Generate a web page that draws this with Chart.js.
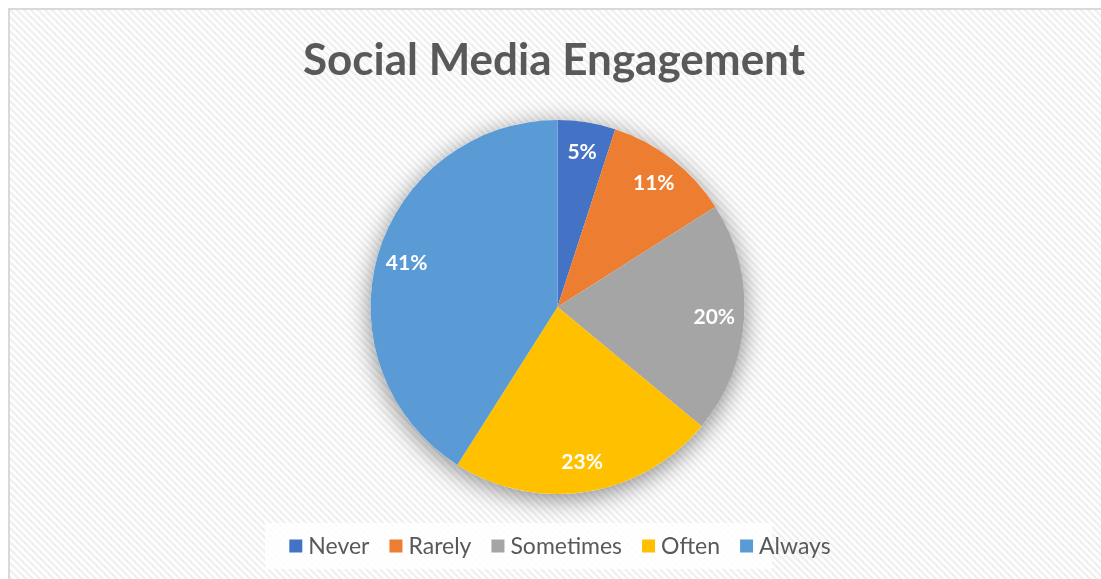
<!DOCTYPE html>
<html>
<head>
<meta charset="utf-8">
<script src="https://cdn.jsdelivr.net/npm/chart.js@4.4.1/dist/chart.umd.min.js"></script>
<style>
  html, body { margin: 0; padding: 0; background: #ffffff; }
  canvas { display: block; }
</style>
</head>
<body>
<canvas id="grafico" width="1101" height="579"></canvas>
<script>
// Dados do gráfico
const categorias = ["Never", "Rarely", "Sometimes", "Often", "Always"];
const percentuais = [5, 11, 20, 23, 41];
const cores = ["#4472C4", "#ED7D31", "#A5A5A5", "#FFC000", "#5B9BD5"];
const titulo = "Social Media Engagement";

const FONTE = "Lato, 'Open Sans', sans-serif";
const CINZA_TEXTO = "#595959";

// Padrão de listras diagonais do fundo
function criarPadrao(ctx) {
    const tile = document.createElement("canvas");
    tile.width = 7;
    tile.height = 7;
    const t = tile.getContext("2d");
    t.fillStyle = "#ffffff";
    t.fillRect(0, 0, 7, 7);
    t.strokeStyle = "rgba(0,0,0,0.06)";
    t.lineWidth = 2.5;
    t.beginPath();
    t.moveTo(-2, -2); t.lineTo(9, 9);
    t.moveTo(-9, -2); t.lineTo(2, 9);
    t.moveTo(5, -2); t.lineTo(16, 9);
    t.stroke();
    return ctx.createPattern(tile, "repeat");
}

// Fundo, borda e título
const fundoPlugin = {
    id: "fundo",
    beforeDraw(chart) {
        const ctx = chart.ctx;
        ctx.save();
        ctx.fillStyle = "#ffffff";
        ctx.fillRect(0, 0, chart.width, chart.height);
        ctx.fillStyle = criarPadrao(ctx);
        ctx.fillRect(9, 9, chart.width, chart.height);
        ctx.strokeStyle = "#d9d9d9";
        ctx.lineWidth = 2;
        ctx.strokeRect(9, 9, chart.width + 10, chart.height + 10);

        ctx.fillStyle = CINZA_TEXTO;
        ctx.font = "bold 44px " + FONTE;
        ctx.textAlign = "center";
        ctx.textBaseline = "alphabetic";
        ctx.fillText(titulo, 554, 75);
        ctx.restore();
    },
    // Sombra suave em volta da pizza
    beforeDatasetsDraw(chart) {
        const arco = chart.getDatasetMeta(0).data[0];
        if (!arco) return;
        const ctx = chart.ctx;
        ctx.save();
        ctx.shadowColor = "rgba(0,0,0,0.45)";
        ctx.shadowBlur = 24;
        ctx.shadowOffsetY = 5;
        ctx.fillStyle = "#ffffff";
        ctx.beginPath();
        ctx.arc(arco.x, arco.y, arco.outerRadius, 0, Math.PI * 2);
        ctx.fill();
        ctx.restore();
    }
};

// Rótulos de porcentagem dentro das fatias
const rotulosPlugin = {
    id: "rotulos",
    afterDatasetsDraw(chart) {
        const ctx = chart.ctx;
        const meta = chart.getDatasetMeta(0);
        const valores = chart.data.datasets[0].data;
        ctx.save();
        ctx.fillStyle = "#ffffff";
        ctx.font = "bold 21px " + FONTE;
        ctx.textAlign = "center";
        ctx.textBaseline = "middle";
        meta.data.forEach((arco, i) => {
            const meio = (arco.startAngle + arco.endAngle) / 2;
            const r = arco.outerRadius * 0.84;
            const x = arco.x + Math.cos(meio) * r;
            const y = arco.y + Math.sin(meio) * r;
            ctx.fillText(valores[i] + "%", x, y);
        });
        ctx.restore();
    }
};

// Legenda na parte de baixo, com caixa branca
const legendaPlugin = {
    id: "legenda",
    afterDraw(chart) {
        const ctx = chart.ctx;
        const rotulos = chart.data.labels;
        const bg = chart.data.datasets[0].backgroundColor;
        ctx.save();
        ctx.font = "23px " + FONTE;
        const caixa = 13, gapTexto = 6, gapItem = 20;
        let total = 0;
        const larguras = rotulos.map(r => ctx.measureText(r).width);
        larguras.forEach((w, i) => {
            total += caixa + gapTexto + w + (i < larguras.length - 1 ? gapItem : 0);
        });
        const cx = 560, cy = 546;
        ctx.fillStyle = "rgba(255,255,255,0.85)";
        ctx.fillRect(265, 523, 507, 46);
        let x = cx - total / 2;
        ctx.textBaseline = "middle";
        ctx.textAlign = "left";
        rotulos.forEach((r, i) => {
            ctx.fillStyle = bg[i];
            ctx.fillRect(x, cy - 6.5, caixa, caixa);
            ctx.fillStyle = CINZA_TEXTO;
            ctx.fillText(r, x + caixa + gapTexto, cy + 1);
            x += caixa + gapTexto + larguras[i] + gapItem;
        });
        ctx.restore();
    }
};

new Chart(document.getElementById("grafico"), {
    type: "pie",
    data: {
        labels: categorias,
        datasets: [{
            data: percentuais,
            backgroundColor: cores,
            borderWidth: 0
        }]
    },
    options: {
        responsive: false,
        animation: false,
        layout: { padding: { top: 120, bottom: 85, left: 14, right: 0 } },
        plugins: {
            legend: { display: false },
            title: { display: false },
            tooltip: { enabled: false }
        }
    },
    plugins: [fundoPlugin, rotulosPlugin, legendaPlugin]
});
</script>
</body>
</html>
